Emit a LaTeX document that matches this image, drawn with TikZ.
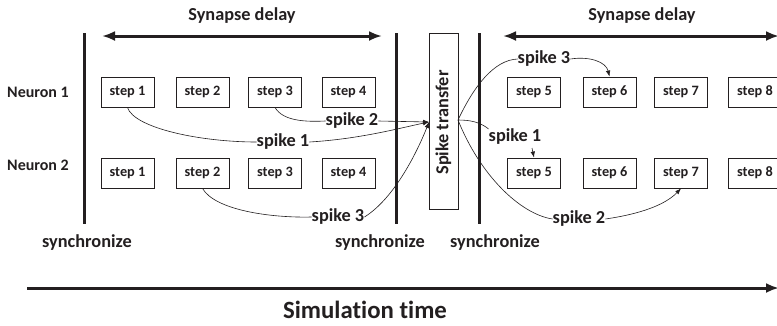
\documentclass[tikz,border=0pt]{standalone}
\usepackage{fontspec}
\setmainfont{Carlito}[Ligatures=NoCommon]
\usetikzlibrary{arrows.meta}
\definecolor{ink}{RGB}{35,31,32}
\begin{document}
\begin{tikzpicture}[x=1pt,y=-1pt,
  every node/.style={font=\bfseries, text=ink, inner sep=0pt},
  stepbox/.style={draw=ink, line width=0.9pt, minimum width=53pt, minimum height=30pt, font=\fontsize{14.3}{16}\selectfont\bfseries},
  syncline/.style={draw=ink, line width=3pt},
  bigarrow/.style={draw=ink, line width=3pt, {Latex[length=13pt,width=10pt]}-{Latex[length=13pt,width=10pt]}},
  spk/.style={draw=ink, line width=0.6pt},
  spkarrow/.style={spk, -{Latex[length=6pt,width=4.5pt]}},
  lbl/.style={font=\fontsize{18.3}{20}\selectfont\bfseries},
  neur/.style={font=\fontsize{16}{18}\selectfont\bfseries},
]
\useasboundingbox (0,0) rectangle (777,325);
\fill[white] (0,0) rectangle (777,325);

% synapse delay arrows
\node[lbl] (sd1) at (242,16) {Synapse delay};
\node[lbl] (sd2) at (642,16) {Synapse delay};
\coordinate (a1l) at (102,36); \coordinate (a1r) at (382,36);
\coordinate (a2l) at (503,36); \coordinate (a2r) at (779,36);
\draw[bigarrow] (a1l) -- (a1r);
\draw[bigarrow] (a2l) -- (a2r);

% sync lines
\coordinate (v1t) at (84,33); \coordinate (v1b) at (84,224);
\coordinate (v2t) at (396,33); \coordinate (v2b) at (396,224);
\coordinate (v3t) at (479,33); \coordinate (v3b) at (479,224);
\draw[syncline] (v1t) -- (v1b);
\draw[syncline] (v2t) -- (v2b);
\draw[syncline] (v3t) -- (v3b);

% spike transfer
\node[draw=ink, line width=0.9pt, minimum width=29pt, minimum height=176pt] (st) at (443.5,121) {};
\node[lbl, rotate=90] (stt) at (443.5,122.5) {Spike transfer};

% neuron labels
\node[neur] (n1) at (38,92) {Neuron 1};
\node[neur] (n2) at (38,165) {Neuron 2};

% steps row 1
\node[stepbox] (a1) at (127.5,92) {step 1};
\node[stepbox] (a2) at (202.5,92) {step 2};
\node[stepbox] (a3) at (275,92) {step 3};
\node[stepbox] (a4) at (348.5,92) {step 4};
\node[stepbox] (a5) at (534,92) {step 5};
\node[stepbox] (a6) at (609.5,92) {step 6};
\node[stepbox] (a7) at (681,92) {step 7};
\node[stepbox] (a8) at (755,92) {step 8};
% steps row 2
\node[stepbox] (b1) at (127.5,173) {step 1};
\node[stepbox] (b2) at (202.5,173) {step 2};
\node[stepbox] (b3) at (275,173) {step 3};
\node[stepbox] (b4) at (348.5,173) {step 4};
\node[stepbox] (b5) at (534,173) {step 5};
\node[stepbox] (b6) at (609.5,173) {step 6};
\node[stepbox] (b7) at (681,173) {step 7};
\node[stepbox] (b8) at (755,173) {step 8};

% spike labels
\node[lbl] (ls1) at (283,142) {spike 1};
\node[lbl] (ls2) at (352,121) {spike 2};
\node[lbl] (ls3) at (338,217) {spike 3};
\node[lbl] (rs3) at (544,59) {spike 3};
\node[lbl] (rs1) at (515,137) {spike 1};
\node[lbl] (rs2) at (579,219) {spike 2};

\coordinate (in) at (429,122);
\coordinate (out) at (458,120);

% left spikes
\draw[spk] (a1.south) .. controls (134,128) and (200,142) .. (ls1.west);
\draw[spkarrow] (ls1.east) .. controls (360,139) and (400,128) .. (in);
\draw[spk] (a3.south) .. controls (283,121) and (305,122) .. (ls2.west);
\draw[spkarrow] (ls2.east) -- (in);
\draw[spk] (b2.south) .. controls (215,210) and (270,218) .. (ls3.west);
\draw[spkarrow] (ls3.east) .. controls (395,198) and (418,150) .. (in);

% right spikes
\draw[spk] (out) .. controls (474,86) and (494,60) .. (rs3.west);
\draw[spkarrow] (rs3.east) .. controls (590,56) and (606,62) .. (a6.north);
\draw[spk] (out) .. controls (470,120) and (480,122) .. (rs1.north west);
\coordinate (r1s) at (532,148);
\draw[spkarrow] (r1s) -- (b5.north);
\draw[spk] (out) .. controls (480,175) and (520,214) .. (rs2.west);
\draw[spkarrow] (rs2.east) .. controls (640,214) and (665,205) .. (b7.south);

% synchronize labels
\node[lbl] (y1) at (87,243) {synchronize};
\node[lbl] (y2) at (380,243) {synchronize};
\node[lbl] (y3) at (495,243) {synchronize};

% simulation time
\coordinate (tl) at (27,288); \coordinate (tr) at (779,288);
\draw[draw=ink, line width=3pt, -{Latex[length=13pt,width=10pt]}] (tl) -- (tr);
\node[font=\fontsize{24.8}{28}\selectfont\bfseries] (simt) at (365,310) {Simulation time};
\end{tikzpicture}
\end{document}
